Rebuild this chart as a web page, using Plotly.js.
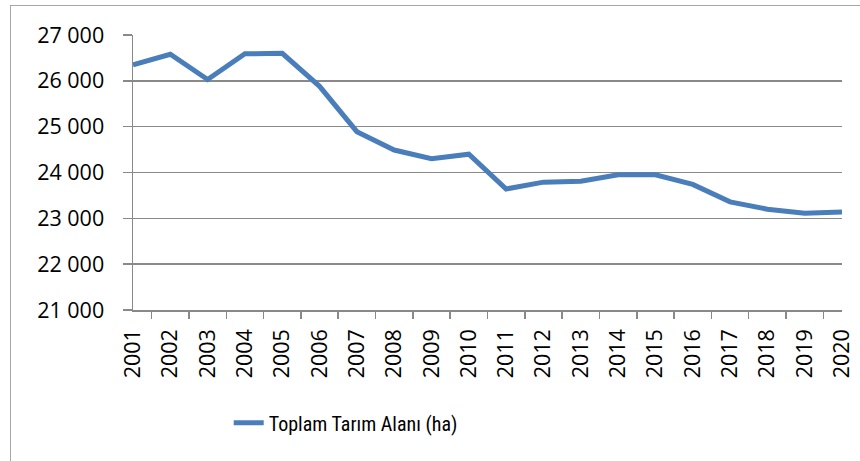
<!DOCTYPE html>
<html>
<head>
<meta charset="utf-8">
<script src="https://cdn.plot.ly/plotly-3.0.1.min.js"></script>
<style>
html,body{margin:0;padding:0;background:#fff;overflow:hidden;}
#chart{width:860px;height:461px;position:absolute;left:0;top:0;}
#frame{position:absolute;left:10px;top:4.5px;width:900px;height:520px;border:1.5px solid #a6a6a6;pointer-events:none;}
</style>
</head>
<body>
<div id="chart"></div>
<div id="frame"></div>
<script>
const years = ["2001","2002","2003","2004","2005","2006","2007","2008","2009","2010",
               "2011","2012","2013","2014","2015","2016","2017","2018","2019","2020"];
const tarimAlani = [26350,26580,26030,26590,26600,25880,24890,24490,24300,24400,
                    23640,23790,23810,23950,23950,23740,23360,23200,23110,23140];
const seriesName = "Toplam Tarım Alanı (ha)";
const yTicks = [21000,22000,23000,24000,25000,26000,27000];

const trace = {
  x: years, y: tarimAlani, type: "scatter", mode: "lines", name: seriesName,
  line: {color: "#4A7EBB", width: 5}
};

const layout = {
  width: 860, height: 461,
  margin: {l: 133, r: 18, t: 34.5, b: 151},
  paper_bgcolor: "#fff", plot_bgcolor: "#fff",
  separators: ", ",
  showlegend: true,
  legend: {orientation: "h", x: 0.135, xanchor: "left", y: -0.41, yanchor: "middle",
           font: {family: "Liberation Sans Narrow, Roboto Condensed, Liberation Sans, sans-serif", size: 20, color: "#000"}},
  xaxis: {type: "category", tickson: "boundaries", ticks: "outside", ticklen: 7, tickwidth: 1.5,
          tickcolor: "#898989", showline: true, linecolor: "#898989", linewidth: 1.5,
          showgrid: false, tickangle: -90, ticklabelstandoff: 9,
          tickfont: {family: "Open Sans, sans-serif", size: 21.5, color: "#000"}},
  yaxis: {range: [21000, 27000], tickvals: yTicks, tickformat: ",d", ticks: "outside", ticklen: 9,
          tickwidth: 1.5, tickcolor: "#898989", showline: true, linecolor: "#898989", linewidth: 1.5,
          showgrid: true, gridcolor: "#898989", gridwidth: 1.5, zeroline: false, ticklabelstandoff: 14,
          tickfont: {family: "Open Sans, sans-serif", size: 21.5, color: "#000"}}
};

Plotly.newPlot("chart", [trace], layout, {displayModeBar: false, staticPlot: true});
</script>
</body>
</html>
